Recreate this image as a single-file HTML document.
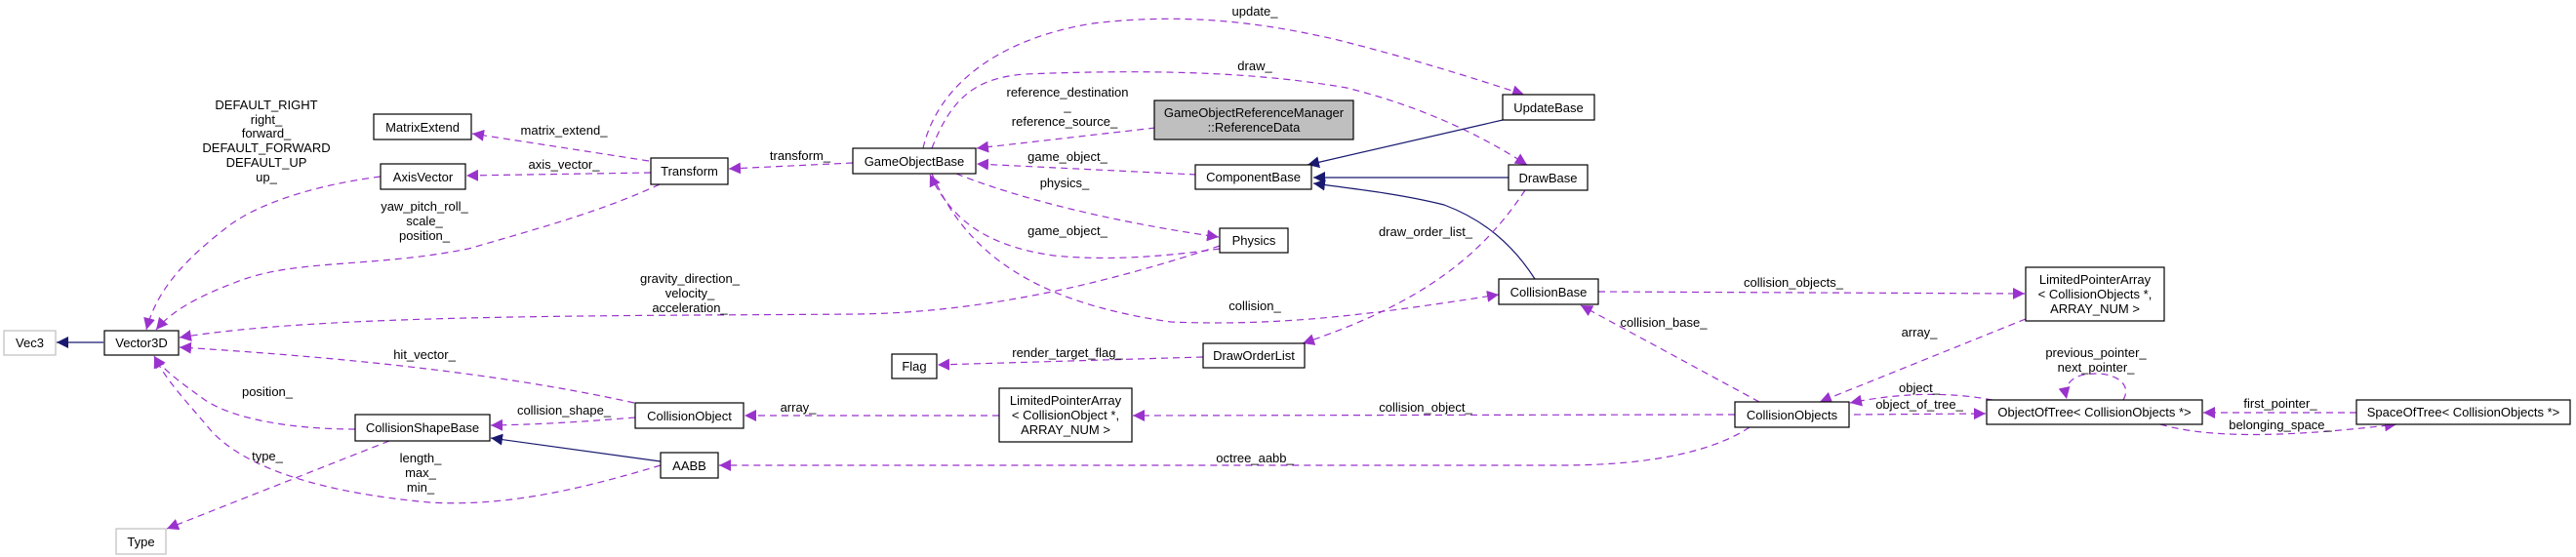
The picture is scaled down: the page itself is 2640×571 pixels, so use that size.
<!DOCTYPE html>
<html><head><meta charset="utf-8"><style>
html,body{margin:0;padding:0;background:#fff;}
svg{display:block;}
text{font-family:"Liberation Sans",Arial,sans-serif;font-size:13px;fill:#000;}
.n{fill:#fff;stroke:#000;stroke-width:1.2;}
.g{fill:#fff;stroke:#bfbfbf;stroke-width:1.2;}
.d{fill:none;stroke:#9a32cd;stroke-width:1.2;stroke-dasharray:7,5;}
.s{fill:none;stroke:#191970;stroke-width:1.2;}
</style></head><body>
<svg width="2640" height="571" viewBox="0 0 2640 571" xmlns="http://www.w3.org/2000/svg">
<defs>
<marker id="p" markerUnits="userSpaceOnUse" markerWidth="14" markerHeight="12" refX="12" refY="6" orient="auto"><path d="M0,0 L12,6 L0,12 z" fill="#9a32cd"/></marker>
<marker id="b" markerUnits="userSpaceOnUse" markerWidth="14" markerHeight="12" refX="12" refY="6" orient="auto"><path d="M0,0 L12,6 L0,12 z" fill="#191970"/></marker>
</defs>
<!-- edges -->
<path class="s" d="M106,351 L58,351" marker-end="url(#b)"/>
<path class="d" d="M390,181 C320,190 260,210 230,235 C185,270 160,300 150,338" marker-end="url(#p)"/>
<path class="d" d="M676,189 C620,215 560,232 480,255 C380,275 300,265 240,290 C200,305 175,320 160,338" marker-end="url(#p)"/>
<path class="d" d="M1250,252 C1150,285 1020,320 880,322 C620,324 330,322 184,346" marker-end="url(#p)"/>
<path class="d" d="M650,413 C500,380 330,365 184,356" marker-end="url(#p)"/>
<path class="d" d="M364,440 C300,440 240,430 210,410 C185,392 168,380 158,365" marker-end="url(#p)"/>
<path class="d" d="M677,477 C600,500 520,520 440,515 C330,505 250,480 215,440 C190,410 170,390 158,365" marker-end="url(#p)"/>
<path class="d" d="M399,452 L171,542" marker-end="url(#p)"/>
<path class="s" d="M677,473 L503,449" marker-end="url(#b)"/>
<path class="d" d="M651,428 C600,432 560,435 503,436" marker-end="url(#p)"/>
<path class="d" d="M665,165 L484,137" marker-end="url(#p)"/>
<path class="d" d="M667,177 L478,180" marker-end="url(#p)"/>
<path class="d" d="M874,167 L747,173" marker-end="url(#p)"/>
<path class="d" d="M1024,426 L763,426" marker-end="url(#p)"/>
<path class="d" d="M1793,438 C1760,460 1700,477 1600,477 L737,477" marker-end="url(#p)"/>
<path class="d" d="M1778,425 L1161,426" marker-end="url(#p)"/>
<path class="d" d="M1184,131 L1001,152" marker-end="url(#p)"/>
<path class="d" d="M1226,179 L1001,168" marker-end="url(#p)"/>
<path class="d" d="M980,178 C1060,210 1170,232 1249,243" marker-end="url(#p)"/>
<path class="d" d="M1250,255 C1200,262 1140,268 1080,262 C1010,252 975,225 953,179" marker-end="url(#p)"/>
<path class="d" d="M946,152 C960,90 1020,40 1120,24 C1220,12 1300,25 1367,40 C1440,58 1510,80 1562,97" marker-end="url(#p)"/>
<path class="d" d="M955,152 C975,100 1000,80 1050,76 C1200,70 1300,76 1380,90 C1460,110 1520,140 1565,169" marker-end="url(#p)"/>
<path class="d" d="M955,178 C990,260 1060,310 1200,330 C1320,335 1420,320 1536,302" marker-end="url(#p)"/>
<path class="s" d="M1540,123 L1340,169" marker-end="url(#b)"/>
<path class="s" d="M1546,182 L1346,182" marker-end="url(#b)"/>
<path class="s" d="M1573,286 C1550,250 1520,225 1480,210 C1440,200 1400,195 1346,188" marker-end="url(#b)"/>
<path class="d" d="M1563,195 C1520,260 1460,310 1335,352" marker-end="url(#p)"/>
<path class="d" d="M1233,366 L961,374" marker-end="url(#p)"/>
<path class="d" d="M1638,299 L2075,301" marker-end="url(#p)"/>
<path class="d" d="M2076,327 L1865,412" marker-end="url(#p)"/>
<path class="d" d="M1803,412 L1620,313" marker-end="url(#p)"/>
<path class="d" d="M2042,410 C2000,402 1950,402 1896,413" marker-end="url(#p)"/>
<path class="d" d="M1900,425 L2035,424" marker-end="url(#p)"/>
<path class="d" d="M2176,410 C2185,395 2170,383 2148,383 C2122,383 2115,395 2118,409" marker-end="url(#p)"/>
<path class="d" d="M2415,423 L2258,423" marker-end="url(#p)"/>
<path class="d" d="M2214,435 C2260,448 2330,450 2456,435" marker-end="url(#p)"/>
<!-- nodes -->
<rect class="g" x="4" y="339" width="53" height="25"/><text x="30.5" y="356" text-anchor="middle">Vec3</text>
<rect class="n" x="107" y="339" width="76" height="25"/><text x="145" y="356" text-anchor="middle">Vector3D</text>
<rect class="n" x="383" y="117" width="100" height="26"/><text x="433" y="135" text-anchor="middle">MatrixExtend</text>
<rect class="n" x="390" y="168" width="87" height="26"/><text x="433.5" y="186" text-anchor="middle">AxisVector</text>
<rect class="n" x="667" y="162" width="79" height="27"/><text x="706.5" y="180" text-anchor="middle">Transform</text>
<rect class="n" x="364" y="425" width="138" height="27"/><text x="433" y="443" text-anchor="middle">CollisionShapeBase</text>
<rect class="n" x="651" y="413" width="111" height="26"/><text x="706.5" y="431" text-anchor="middle">CollisionObject</text>
<rect class="n" x="677" y="464" width="59" height="26"/><text x="706.5" y="482" text-anchor="middle">AABB</text>
<rect class="g" x="119" y="542" width="51" height="26"/><text x="144.5" y="560" text-anchor="middle">Type</text>
<rect class="n" x="874" y="152" width="126" height="26"/><text x="937" y="170" text-anchor="middle">GameObjectBase</text>
<rect x="1183" y="103" width="204" height="40" fill="#bfbfbf" stroke="#000" stroke-width="1.2"/><text x="1285" y="120" text-anchor="middle">GameObjectReferenceManager</text><text x="1285" y="135" text-anchor="middle">::ReferenceData</text>
<rect class="n" x="1540" y="97" width="94" height="26"/><text x="1587" y="115" text-anchor="middle">UpdateBase</text>
<rect class="n" x="1225" y="169" width="119" height="25"/><text x="1284.5" y="186" text-anchor="middle">ComponentBase</text>
<rect class="n" x="1546" y="169" width="81" height="26"/><text x="1586.5" y="187" text-anchor="middle">DrawBase</text>
<rect class="n" x="1250" y="234" width="70" height="25"/><text x="1285" y="251" text-anchor="middle">Physics</text>
<rect class="n" x="1536" y="286" width="102" height="26"/><text x="1587" y="304" text-anchor="middle">CollisionBase</text>
<rect class="n" x="1233" y="352" width="104" height="25"/><text x="1285" y="369" text-anchor="middle">DrawOrderList</text>
<rect class="n" x="914" y="363" width="46" height="25"/><text x="937" y="380" text-anchor="middle">Flag</text>
<rect class="n" x="1024" y="398" width="136" height="55"/><text x="1092" y="415" text-anchor="middle">LimitedPointerArray</text><text x="1092" y="430" text-anchor="middle">&lt; CollisionObject *,</text><text x="1092" y="445" text-anchor="middle">ARRAY_NUM &gt;</text>
<rect class="n" x="2076" y="274" width="142" height="55"/><text x="2147" y="291" text-anchor="middle">LimitedPointerArray</text><text x="2147" y="306" text-anchor="middle">&lt; CollisionObjects *,</text><text x="2147" y="321" text-anchor="middle">ARRAY_NUM &gt;</text>
<rect class="n" x="1778" y="412" width="117" height="26"/><text x="1836.5" y="430" text-anchor="middle">CollisionObjects</text>
<rect class="n" x="2036" y="410" width="221" height="25"/><text x="2146.5" y="427" text-anchor="middle">ObjectOfTree&lt; CollisionObjects *&gt;</text>
<rect class="n" x="2415" y="410" width="219" height="25"/><text x="2524.5" y="427" text-anchor="middle">SpaceOfTree&lt; CollisionObjects *&gt;</text>
<!-- labels -->
<g text-anchor="middle">
<text x="273" y="112">DEFAULT_RIGHT</text><text x="273" y="127">right_</text><text x="273" y="141">forward_</text><text x="273" y="156">DEFAULT_FORWARD</text><text x="273" y="171">DEFAULT_UP</text><text x="273" y="186">up_</text>
<text x="578" y="138">matrix_extend_</text>
<text x="578" y="173">axis_vector_</text>
<text x="820" y="164">transform_</text>
<text x="435" y="216">yaw_pitch_roll_</text><text x="435" y="231">scale_</text><text x="435" y="246">position_</text>
<text x="707" y="290">gravity_direction_</text><text x="707" y="305">velocity_</text><text x="707" y="320">acceleration_</text>
<text x="435" y="368">hit_vector_</text>
<text x="274" y="406">position_</text>
<text x="578" y="425">collision_shape_</text>
<text x="818" y="422">array_</text>
<text x="274" y="472">type_</text>
<text x="431" y="474">length_</text><text x="431" y="489">max_</text><text x="431" y="504">min_</text>
<text x="1286" y="16">update_</text>
<text x="1286" y="72">draw_</text>
<text x="1094" y="99">reference_destination</text><text x="1094" y="113">_</text>
<text x="1091" y="129">reference_source_</text>
<text x="1094" y="165">game_object_</text>
<text x="1091" y="192">physics_</text>
<text x="1094" y="241">game_object_</text>
<text x="1461" y="242">draw_order_list_</text>
<text x="1286" y="318">collision_</text>
<text x="1705" y="335">collision_base_</text>
<text x="1094" y="366">render_target_flag_</text>
<text x="1461" y="422">collision_object_</text>
<text x="1286" y="474">octree_aabb_</text>
<text x="1838" y="294">collision_objects_</text>
<text x="1967" y="345">array_</text>
<text x="2148" y="366">previous_pointer_</text><text x="2148" y="381">next_pointer_</text>
<text x="1967" y="402">object_</text>
<text x="1967" y="419">object_of_tree_</text>
<text x="2337" y="418">first_pointer_</text>
<text x="2337" y="440">belonging_space_</text>
</g>
</svg>
</body></html>
